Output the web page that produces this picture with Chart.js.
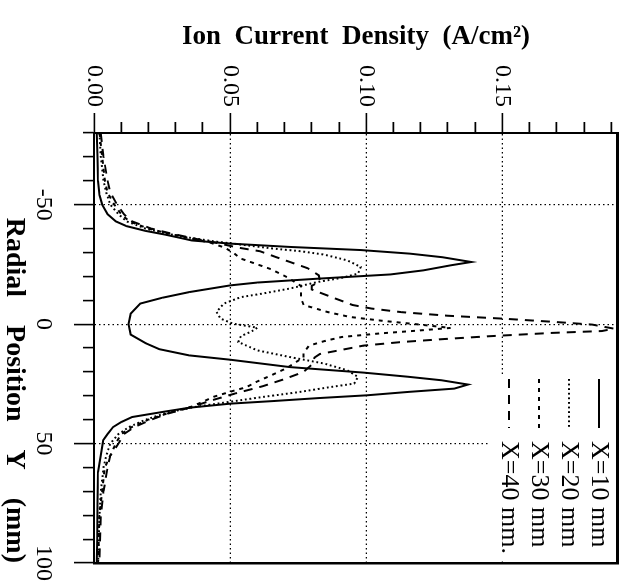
<!DOCTYPE html>
<html>
<head>
<meta charset="utf-8">
<script src="https://cdn.jsdelivr.net/npm/chart.js@4.4.1/dist/chart.umd.min.js"></script>
<style>
  html, body { margin: 0; padding: 0; background: #fff; overflow: hidden; }
  /* the figure is printed turned a quarter clockwise, so the canvas is drawn upright and turned */
  #wrap {
    position: absolute; left: 0; top: 0; width: 585px; height: 630px;
    transform-origin: 0 0; transform: translate(630px, 0) rotate(90deg);
  }
</style>
</head>
<body>
<div id="wrap"><canvas id="ionChart" width="585" height="630"></canvas></div>
<script>
const seriesNames = ['X=10 mm', 'X=20 mm', 'X=30 mm', 'X=40 mm.'];
const densityLabels = [0.00, 0.05, 0.10, 0.15];
const positionLabels = [-50, 0, 50, 100];
const densityGrid = [0.05, 0.10, 0.15];
const positionGrid = [-50, 0, 50];

// X = 10 mm
const pos10 = [-80, -70, -60, -54, -50, -46, -43, -41, -39, -37.5, -36, -35, -33.7, -32.3, -31,
  -29.5, -28, -26, -24.6, -22.5, -20.8, -19, -17.4, -16.2, -13.4, -11, -8.6, -4.4, 0, 4.4,
  8, 10.5, 13.1, 14.9, 18, 20.3, 22, 23.5, 25.3, 27, 28.4, 29.8, 31, 32.2, 33.3,
  35, 36.8, 38.9, 41, 43.1, 46, 48.6, 55, 62, 75, 90, 100];
const dens10 = [0.001, 0.0013, 0.0015, 0.002, 0.003, 0.005, 0.008, 0.012, 0.019, 0.026, 0.032, 0.036, 0.050, 0.072, 0.098,
  0.116, 0.128, 0.1386, 0.131, 0.121, 0.109, 0.082, 0.060, 0.050, 0.035, 0.025, 0.017, 0.0135, 0.0127, 0.0135,
  0.019, 0.024, 0.035, 0.050, 0.072, 0.099, 0.115, 0.1276, 0.1374, 0.1324, 0.1153, 0.1003, 0.082, 0.066, 0.050,
  0.035, 0.025, 0.014, 0.010, 0.007, 0.005, 0.0034, 0.0025, 0.0015, 0.0013, 0.0012, 0.001];

// X = 20 mm
const pos20 = [-80, -70, -60, -55, -50, -46, -43, -40, -38, -36, -34.5, -33.7, -31.6, -30.5, -29.1,
  -26.7, -23.9, -21.1, -19.3, -17.6, -14.9, -12.8, -11.3, -8.6, -5.1, -2.3, -0.2, 1.5, 3, 5,
  7.5, 11, 13.8, 16.5, 19.3, 22.1, 24.9, 26.5, 28.5, 30.5, 32.5, 34.7, 37, 40, 43,
  46, 50, 55, 60, 70, 80, 100];
const dens20 = [0.002, 0.0025, 0.0035, 0.0045, 0.006, 0.009, 0.012, 0.019, 0.026, 0.036, 0.045, 0.051, 0.066, 0.076, 0.0845,
  0.093, 0.098, 0.097, 0.0907, 0.082, 0.072, 0.062, 0.054, 0.0477, 0.045, 0.0465, 0.051, 0.060, 0.058, 0.054,
  0.053, 0.060, 0.072, 0.0845, 0.093, 0.097, 0.0956, 0.086, 0.075, 0.062, 0.050, 0.037, 0.027, 0.019, 0.013,
  0.009, 0.006, 0.0045, 0.0035, 0.0025, 0.002, 0.0015];

// X = 30 mm
const pos30 = [-80, -70, -60, -55, -50, -46, -43, -40, -38, -36, -34, -32, -30, -27.4, -23,
  -19.6, -16, -14, -11, -8, -5, -3, -1.5, 0, 1.6, 2.8, 3.9, 5.4, 7, 9,
  12, 14, 16, 18.3, 21.5, 24, 26.4, 28, 30.4, 32.5, 34.5, 37, 40, 43, 46,
  50, 55, 60, 70, 80, 100];
const dens30 = [0.002, 0.003, 0.004, 0.005, 0.0075, 0.010, 0.013, 0.020, 0.027, 0.035, 0.043, 0.048, 0.051, 0.054, 0.065,
  0.071, 0.076, 0.076, 0.076, 0.077, 0.086, 0.094, 0.105, 0.118, 0.131, 0.118, 0.105, 0.091, 0.085, 0.079,
  0.077, 0.077, 0.074, 0.071, 0.065, 0.060, 0.056, 0.051, 0.044, 0.040, 0.036, 0.028, 0.020, 0.014, 0.010,
  0.008, 0.006, 0.004, 0.003, 0.002, 0.0015];

// X = 40 mm
const pos40 = [-80, -70, -60, -55, -50, -46, -43, -40, -38, -36, -34, -32, -30.5, -28, -26,
  -23.4, -20.4, -18, -16, -14.5, -11, -8, -6.5, -5, -3.5, -2.3, -1, 0.2, 1.9, 2.9,
  3.7, 5.1, 6.3, 7.5, 9, 11, 12.5, 14, 17, 20, 23, 26, 29, 32, 35,
  37.5, 40, 43, 46, 50, 55, 60, 70, 80, 100];
const dens40 = [0.0025, 0.0035, 0.005, 0.006, 0.0085, 0.011, 0.014, 0.021, 0.028, 0.036, 0.045, 0.053, 0.061, 0.067, 0.072,
  0.0785, 0.0826, 0.083, 0.080, 0.080, 0.088, 0.095, 0.102, 0.113, 0.130, 0.150, 0.168, 0.183, 0.191, 0.1866,
  0.168, 0.1448, 0.128, 0.113, 0.099, 0.090, 0.083, 0.081, 0.080, 0.077, 0.070, 0.062, 0.052, 0.043, 0.035,
  0.027, 0.021, 0.015, 0.011, 0.009, 0.006, 0.005, 0.0035, 0.0025, 0.002];

const toPoints = (xs, ys) => xs.map((x, i) => ({ x: x, y: ys[i] }));
const isIn = (list, v) => list.some(t => Math.abs(t - v) < 1e-6);
const serif = 'Liberation Serif';

Chart.defaults.font.family = serif;
Chart.defaults.color = '#000';

const line = (i, data, width, dash) => ({
    label: seriesNames[i],
    data: data,
    showLine: true,
    borderColor: '#000',
    backgroundColor: '#000',
    borderWidth: width,
    borderDash: dash,
    pointRadius: 0,
    tension: 0,
    fill: false,
});

const canvas = document.getElementById('ionChart');
const ctx = canvas.getContext('2d');

new Chart(ctx, {
    type: 'scatter',
    data: {
        datasets: [
            line(0, toPoints(pos10, dens10), 2, []),
            line(1, toPoints(pos20, dens20), 2, [1.8, 2.8]),
            line(2, toPoints(pos30, dens30), 2, [4, 5]),
            line(3, toPoints(pos40, dens40), 2, [9, 7]),
        ]
    },
    options: {
        responsive: false,
        animation: false,
        devicePixelRatio: 1,
        events: [],
        layout: {
            autoPadding: false,
            padding: { top: 12, right: 22, bottom: 0, left: 0 }
        },
        scales: {
            x: {
                type: 'linear',
                position: 'bottom',
                min: -80,
                max: 100,
                ticks: {
                    stepSize: 10,
                    autoSkip: false,
                    maxRotation: 0,
                    minRotation: 0,
                    padding: 16,
                    color: '#000',
                    font: { family: serif, size: 24 },
                    callback: (v) => isIn(positionLabels, v) ? String(v) : '',
                },
                grid: {
                    tickLength: 20,
                    lineWidth: 1.2,
                    tickWidth: 1.6,
                    tickColor: '#000',
                    color: (c) => (c.tick && isIn(positionGrid, c.tick.value)) ? '#000' : 'rgba(0,0,0,0)',
                    tickBorderDash: (c) => (c.tick && isIn(positionLabels, c.tick.value)) ? [] : [10, 40],
                },
                border: { color: '#000', width: 2, dash: [1.5, 3] },
                title: {
                    display: true,
                    text: 'Radial    Position    Y    (mm)',
                    align: 'end',
                    color: '#000',
                    font: { family: serif, size: 28, weight: 'bold', lineHeight: 1 },
                    padding: { top: 0, bottom: 0 },
                },
                afterFit: (s) => { s.height = 94; s.paddingLeft = 0; s.paddingRight = 0; },
            },
            y: {
                type: 'linear',
                position: 'left',
                min: 0,
                max: 0.1925,
                ticks: {
                    stepSize: 0.01,
                    includeBounds: false,
                    autoSkip: false,
                    padding: 6,
                    color: '#000',
                    font: { family: serif, size: 24 },
                    callback: (v) => isIn(densityLabels, v) ? v.toFixed(2) : '',
                },
                grid: {
                    tickLength: 20,
                    lineWidth: 1.2,
                    tickWidth: 1.6,
                    tickColor: '#000',
                    color: (c) => (c.tick && isIn(densityGrid, c.tick.value)) ? '#000' : 'rgba(0,0,0,0)',
                    tickBorderDash: (c) => (c.tick && isIn(densityLabels, c.tick.value)) ? [] : [0, 9, 20, 0],
                },
                border: { color: '#000', width: 2, dash: [1.5, 3] },
                title: {
                    display: true,
                    text: 'Ion  Current  Density  (A/cm²)',
                    color: '#000',
                    font: { family: serif, size: 27, weight: 'bold', lineHeight: 1 },
                    padding: { top: 24, bottom: 0 },
                },
                afterFit: (s) => { s.width = 133; s.paddingTop = 0; s.paddingBottom = 0; },
            },
            xTop: {
                type: 'linear',
                position: 'top',
                display: true,
                min: -80,
                max: 100,
                ticks: { display: false },
                grid: { display: false, drawTicks: false },
                border: { color: '#000', width: 3 },
                afterFit: (s) => { s.height = 0; s.paddingLeft = 0; s.paddingRight = 0; },
            },
            yRight: {
                type: 'linear',
                position: 'right',
                display: true,
                min: 0,
                max: 0.1925,
                ticks: { display: false },
                grid: { display: false, drawTicks: false },
                border: { color: '#000', width: 2.5 },
                afterFit: (s) => { s.width = 0; s.paddingTop = 0; s.paddingBottom = 0; },
            },
        },
        plugins: {
            tooltip: { enabled: false },
            legend: {
                position: 'chartArea',
                align: 'start',
                labels: {
                    usePointStyle: true,
                    pointStyle: 'line',
                    pointStyleWidth: 49,
                    padding: 4,
                    color: '#000',
                    font: { family: serif, size: 26, lineHeight: 1 },
                    generateLabels: (chart) => Chart.defaults.plugins.legend.labels.generateLabels(chart).map((item) => {
                        const ds = chart.data.datasets[item.datasetIndex];
                        item.lineDash = ds.borderDash;
                        item.lineWidth = ds.borderWidth;
                        item.strokeStyle = ds.borderColor;
                        return item;
                    }),
                },
            },
        },
    },
    plugins: [
        {
            id: 'legendBox',
            afterLayout: (chart) => {
                const legend = chart.legend;
                legend.left = chart.chartArea.right - 188;
                legend.top = chart.chartArea.top + 2;
            },
            afterDatasetsDraw: (chart) => {
                const { ctx, legend, chartArea } = chart;
                const boxes = legend.legendHitBoxes || [];
                if (!boxes.length) return;
                const bottom = Math.max(...boxes.map(b => b.top + b.height)) + 6;
                // the legend sits on a white patch that hides the grid behind it
                ctx.save();
                ctx.fillStyle = '#fff';
                ctx.fillRect(legend.left, chartArea.top + 2, chartArea.right - 2 - legend.left, bottom - chartArea.top - 2);
                ctx.restore();
                legend.draw();
            },
        },
    ],
});
</script>
</body>
</html>
